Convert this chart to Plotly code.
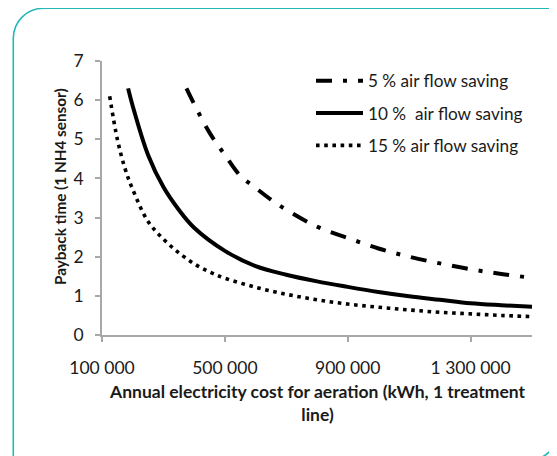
import plotly.graph_objects as go

# ---- data ----
x_5 = [375000, 400000, 450000, 500000, 550000, 600000, 650000, 700000, 800000,
       900000, 1000000, 1100000, 1200000, 1300000, 1400000, 1500000]
y_5 = [6.3, 5.9, 5.17, 4.6, 4.07, 3.76, 3.46, 3.2, 2.77,
       2.48, 2.21, 2.0, 1.83, 1.68, 1.56, 1.46]

x_10 = [185000, 200000, 250000, 300000, 350000, 400000, 500000, 600000, 700000,
        800000, 900000, 1000000, 1100000, 1200000, 1300000, 1400000, 1500000]
y_10 = [6.3, 5.85, 4.6, 3.78, 3.2, 2.74, 2.15, 1.76, 1.54,
        1.37, 1.23, 1.1, 0.99, 0.9, 0.81, 0.76, 0.72]

x_15 = [125000, 150000, 175000, 200000, 250000, 300000, 350000, 400000, 450000,
        500000, 600000, 700000, 800000, 900000, 1000000, 1100000, 1200000,
        1300000, 1400000, 1500000]
y_15 = [6.1, 5.0, 4.25, 3.72, 2.9, 2.45, 2.1, 1.82, 1.61,
        1.45, 1.22, 1.04, 0.9, 0.79, 0.71, 0.64, 0.58,
        0.54, 0.5, 0.47]

series_names = ["5 % air flow saving", "10 %\u00a0 air flow saving", "15 % air flow saving"]

x_tickvals = [100000, 500000, 900000, 1300000]
x_ticktext = ["100 000", "500 000", "900 000", "1 300 000"]
y_tickvals = [0, 1, 2, 3, 4, 5, 6, 7]

x_title = "Annual electricity cost for aeration (kWh, 1 treatment<br>line)"
y_title = "Payback time (1 NH4 sensor)"

# ---- layout geometry (page body adds an 8 px margin) ----
OFF = 8
W, H = 557 - OFF, 456 - OFF
ML, MR, MT, MB = 94, 25, 53, 121
PW, PH = W - ML - MR, H - MT - MB

def xp(px):
    """reference-screen x pixel -> paper"""
    return (px - OFF - ML) / PW

def yp(py):
    """reference-screen y pixel -> paper"""
    return (H - MB - (py - OFF)) / PH

FONT = "Lato"
TXT = "#1a1a1a"

fig = go.Figure()
fig.add_trace(go.Scatter(x=x_5, y=y_5, name=series_names[0], mode="lines",
                         line=dict(color="black", width=4, dash="16px,11px,4px,11px", shape="spline"),
                         legendgroup="a"))
fig.add_trace(go.Scatter(x=x_10, y=y_10, name=series_names[1], mode="lines",
                         line=dict(color="black", width=4, shape="spline"),
                         legendgroup="b"))
fig.add_trace(go.Scatter(x=x_15, y=y_15, name=series_names[2], mode="lines",
                         line=dict(color="black", width=3.6, dash="3.6px,4.6px", shape="spline"),
                         legendgroup="c"))

# rounded teal frame
L, T, R, B = 13.3, 8.3, 559.5, 460.5
r1, r2 = 30, 32
k = 0.5523
path = (
    f"M {xp(L)},{yp(B + 10)} "
    f"L {xp(L)},{yp(T + r1)} "
    f"C {xp(L)},{yp(T + r1 - k * r1)} {xp(L + r1 - k * r1)},{yp(T)} {xp(L + r1)},{yp(T)} "
    f"L {xp(R)},{yp(T)} "
    f"L {xp(R)},{yp(B - r2)} "
    f"C {xp(R)},{yp(B - r2 + k * r2)} {xp(R - r2 + k * r2)},{yp(B)} {xp(R - r2)},{yp(B)} "
    f"L {xp(L)},{yp(B + 10)}"
)
fig.add_shape(type="path", path=path, xref="paper", yref="paper",
              line=dict(color="#22b8b8", width=1.6), fillcolor="rgba(0,0,0,0)")

fig.add_annotation(text=x_title, xref="paper", yref="paper", x=xp(317), y=yp(403),
                   xanchor="center", yanchor="middle", showarrow=False,
                   font=dict(family=FONT, size=17.5, color=TXT, weight="bold"))
fig.add_annotation(text=y_title, xref="paper", yref="paper", x=xp(60), y=yp(187),
                   xanchor="center", yanchor="middle", showarrow=False, textangle=-90,
                   font=dict(family=FONT, size=15.3, color=TXT, weight="bold"))

axis_common = dict(showgrid=False, zeroline=False, showline=True, linecolor="#a8a8a8",
                   linewidth=1.5, ticks="outside", ticklen=5, tickcolor="#a8a8a8",
                   tickwidth=1.5, tickfont=dict(family=FONT, size=17.5, color=TXT))

fig.update_layout(
    width=W, height=H,
    margin=dict(l=ML, r=MR, t=MT, b=MB, pad=0),
    paper_bgcolor="white", plot_bgcolor="white",
    xaxis=dict(range=[100000, 1500000], tickmode="array", tickvals=x_tickvals,
               ticktext=x_ticktext, ticklabelstandoff=11, **axis_common),
    yaxis=dict(range=[0, 7], tickmode="array", tickvals=y_tickvals,
               ticklabelstandoff=8, **axis_common),
    showlegend=True,
    legend=dict(x=xp(311), y=yp(63), xanchor="left", yanchor="top",
                bgcolor="rgba(0,0,0,0)", itemwidth=47, tracegroupgap=7,
                font=dict(family=FONT, size=17.2, color=TXT)),
)

fig.write_html("out.html")
